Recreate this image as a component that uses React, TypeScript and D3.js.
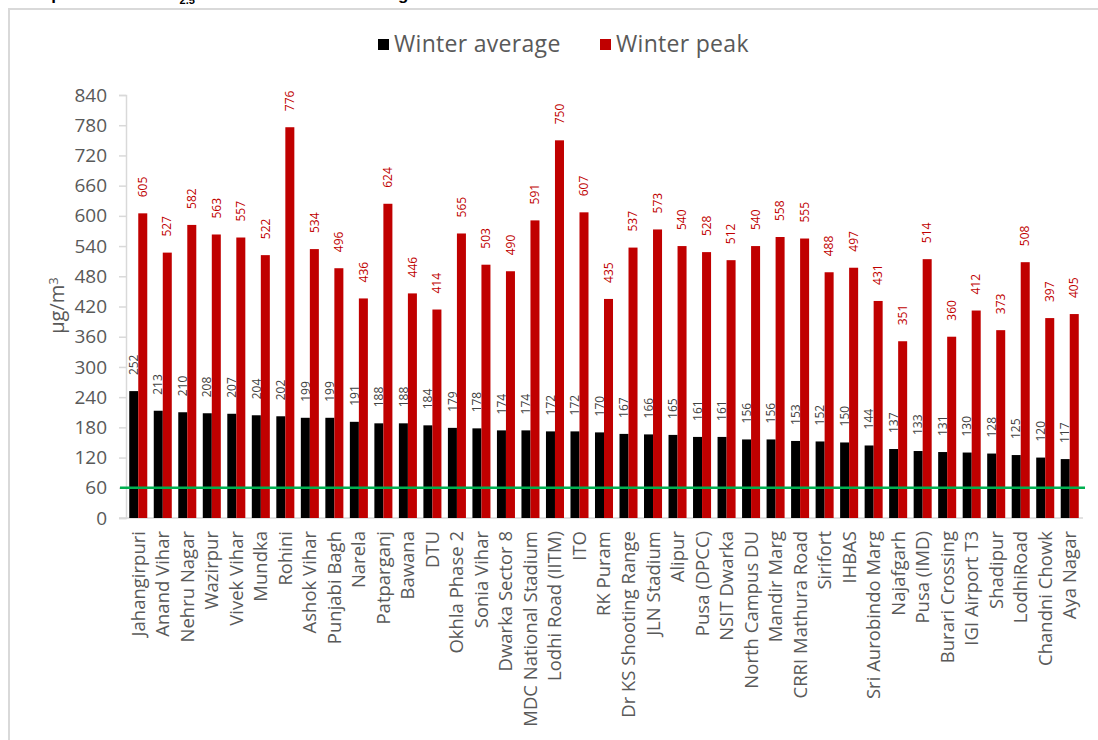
import { useEffect, useRef } from 'react'
import * as d3 from 'd3'

const stations = [
  'Jahangirpuri', 'Anand Vihar', 'Nehru Nagar', 'Wazirpur', 'Vivek Vihar', 'Mundka', 'Rohini',
  'Ashok Vihar', 'Punjabi Bagh', 'Narela', 'Patparganj', 'Bawana', 'DTU', 'Okhla Phase 2',
  'Sonia Vihar', 'Dwarka Sector 8', 'MDC National Stadium', 'Lodhi Road (IITM)', 'ITO', 'RK Puram',
  'Dr KS Shooting Range', 'JLN Stadium', 'Alipur', 'Pusa (DPCC)', 'NSIT Dwarka', 'North Campus DU',
  'Mandir Marg', 'CRRI Mathura Road', 'Sirifort', 'IHBAS', 'Sri Aurobindo Marg', 'Najafgarh',
  'Pusa (IMD)', 'Burari Crossing', 'IGI Airport T3', 'Shadipur', 'LodhiRoad', 'Chandni Chowk', 'Aya Nagar',
]

const winterAverage = [
  252, 213, 210, 208, 207, 204, 202, 199, 199, 191, 188, 188, 184, 179, 178, 174, 174, 172, 172, 170,
  167, 166, 165, 161, 161, 156, 156, 153, 152, 150, 144, 137, 133, 131, 130, 128, 125, 120, 117,
]

const winterPeak = [
  605, 527, 582, 563, 557, 522, 776, 534, 496, 436, 624, 446, 414, 565, 503, 490, 591, 750, 607, 435,
  537, 573, 540, 528, 512, 540, 558, 555, 488, 497, 431, 351, 514, 360, 412, 373, 508, 397, 405,
]

const yTicks = d3.range(0, 841, 60)
const standard = 60

const FONT = "'Open Sans', sans-serif"
const GREY = '#595959'

export default function App() {
  const svgRef = useRef<SVGSVGElement>(null)

  useEffect(() => {
    if (!svgRef.current) return
    const svg = d3.select(svgRef.current)
    svg.selectAll('*').remove()

    const width = 1098
    const height = 740
    const left = 126
    const right = 1082
    const top = 95
    const bottom = 518

    svg.attr('width', width).attr('height', height)

    // 잘린 제목 (아래쪽만 보임)
    const title = svg.append('text')
      .attr('x', 22)
      .attr('y', -0.5)
      .style('font-family', "'Liberation Sans', Arial, sans-serif")
      .style('font-weight', 'bold')
      .style('font-size', '17px')
      .style('fill', '#000')
    title.append('tspan').text('Graph 5: Winter PM')
    title.append('tspan').attr('dy', 4).style('font-size', '11px').text('2.5')
    title.append('tspan').attr('dy', -4).text(' levels at stations: ranking')

    // 차트 테두리
    svg.append('rect')
      .attr('x', 9)
      .attr('y', 9)
      .attr('width', width + 20)
      .attr('height', height + 20)
      .attr('fill', 'none')
      .attr('stroke', '#d9d9d9')
      .attr('stroke-width', 2)

    const x = d3.scaleBand().domain(stations).range([left, right])
    const sub = d3.scaleBand()
      .domain(['avg', 'peak'])
      .range([0, x.bandwidth()])
      .paddingInner(0)
      .paddingOuter(0.36)
    const y = d3.scaleLinear().domain([0, 840]).range([bottom, top])

    // Y축
    const yAxis = svg.append('g')
      .attr('transform', `translate(${left},0)`)
      .call(d3.axisLeft(y).tickValues(yTicks).tickSize(7).tickPadding(12))
    yAxis.select('.domain').attr('stroke', '#d9d9d9').attr('stroke-width', 1.5)
    yAxis.selectAll('.tick line').attr('stroke', '#d9d9d9').attr('stroke-width', 1.5)
    yAxis.selectAll('.tick text')
      .style('font-family', FONT)
      .style('font-size', '19px')
      .style('fill', GREY)

    // X축 선
    svg.append('line')
      .attr('x1', left - 7)
      .attr('x2', right + 1)
      .attr('y1', y(0))
      .attr('y2', y(0))
      .attr('stroke', '#d9d9d9')
      .attr('stroke-width', 1.5)

    // 막대
    const series = [
      { key: 'avg', values: winterAverage, color: '#000000', labelColor: '#404040' },
      { key: 'peak', values: winterPeak, color: '#c00000', labelColor: '#c00000' },
    ]

    series.forEach(s => {
      svg.append('g')
        .selectAll('rect')
        .data(s.values)
        .enter()
        .append('rect')
        .attr('x', (_, i) => (x(stations[i]) || 0) + (sub(s.key) || 0))
        .attr('y', d => y(d))
        .attr('width', sub.bandwidth())
        .attr('height', d => y(0) - y(d))
        .attr('fill', s.color)

      svg.append('g')
        .selectAll('text')
        .data(s.values)
        .enter()
        .append('text')
        .attr('transform', (d, i) => {
          const cx = (x(stations[i]) || 0) + (sub(s.key) || 0) + sub.bandwidth() / 2
          return `translate(${cx},${y(d) - 16}) rotate(-90)`
        })
        .attr('dy', '0.35em')
        .attr('text-anchor', 'start')
        .style('font-family', FONT)
        .style('font-size', '12px')
        .style('fill', s.labelColor)
        .text(d => d)
    })

    // 기준선 (60)
    svg.append('line')
      .attr('x1', left - 6)
      .attr('x2', right + 3)
      .attr('y1', y(standard))
      .attr('y2', y(standard))
      .attr('stroke', '#00b050')
      .attr('stroke-width', 2.5)

    // 카테고리 레이블
    svg.append('g')
      .selectAll('text')
      .data(stations)
      .enter()
      .append('text')
      .attr('transform', d => `translate(${(x(d) || 0) + x.bandwidth() / 2},${bottom + 13}) rotate(-90)`)
      .attr('dy', '0.35em')
      .attr('text-anchor', 'end')
      .style('font-family', FONT)
      .style('font-size', '18.5px')
      .style('fill', GREY)
      .text(d => d)

    // Y축 제목
    const yLabel = svg.append('text')
      .attr('transform', `translate(57,${(top + bottom) / 2 - 1}) rotate(-90)`)
      .attr('dy', '0.35em')
      .attr('text-anchor', 'middle')
      .style('font-family', FONT)
      .style('font-size', '20px')
      .style('fill', GREY)
    yLabel.append('tspan').text('μg/m')
    yLabel.append('tspan').attr('dy', '-0.5em').style('font-size', '13px').text('3')

    // 범례
    const legendItems = [
      { label: 'Winter average', color: '#000000', x: 378 },
      { label: 'Winter peak', color: '#c00000', x: 600 },
    ]
    const legend = svg.append('g')
    legendItems.forEach(item => {
      legend.append('rect')
        .attr('x', item.x)
        .attr('y', 39)
        .attr('width', 11)
        .attr('height', 11)
        .attr('fill', item.color)
      legend.append('text')
        .attr('x', item.x + 16)
        .attr('y', 52)
        .style('font-family', FONT)
        .style('font-size', '23px')
        .style('letter-spacing', '0.3px')
        .style('fill', GREY)
        .text(item.label)
    })
  }, [])

  return (
    <div style={{ position: 'absolute', left: 0, top: 0 }}>
      <svg ref={svgRef} style={{ display: 'block' }}></svg>
    </div>
  )
}
